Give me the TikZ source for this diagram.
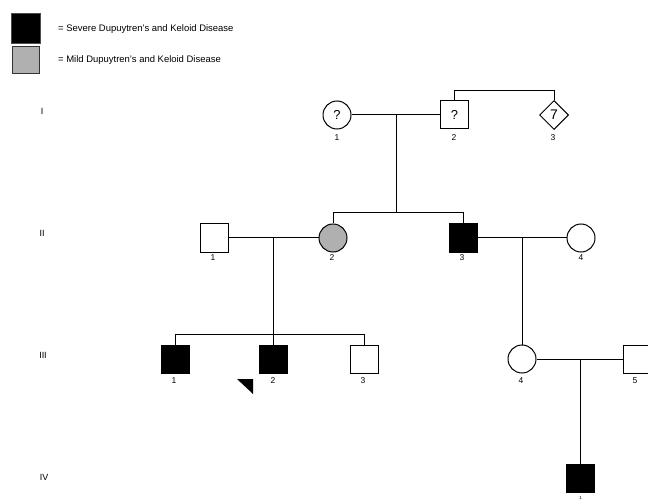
\documentclass[tikz,border=0pt]{standalone}
\usepackage{fontspec}
\setmainfont{Liberation Sans}
\usetikzlibrary{shapes.geometric}
\definecolor{mildgray}{RGB}{176,176,176}
\tikzset{
  ln/.style={line width=1bp,black},
  male/.style={draw,line width=1bp,rectangle,minimum size=28bp,inner sep=0pt,font=\fontsize{13}{14}\selectfont},
  female/.style={draw,line width=1bp,circle,minimum size=28bp,inner sep=0pt,font=\fontsize{13}{14}\selectfont},
  unk/.style={draw,line width=1bp,diamond,minimum width=29bp,minimum height=29bp,inner sep=0pt,font=\fontsize{14}{15}\selectfont},
  severe/.style={fill=black},
  mild/.style={fill=mildgray},
  lbl/.style={font=\fontsize{8.5}{9}\selectfont,inner sep=0pt},
  gen/.style={font=\fontsize{9}{10}\selectfont,inner sep=0pt},
  legtxt/.style={font=\fontsize{9.5}{10}\selectfont,anchor=west,inner sep=0pt}
}
\begin{document}
\begin{tikzpicture}[x=1bp,y=-1bp]
\useasboundingbox (0,0) rectangle (648,501);
% legend
\node[draw=black!70,fill=black,minimum width=29bp,minimum height=30bp,inner sep=0pt] (legA) at (26,28) {};
\node[draw=black!80,line width=1bp,fill=mildgray,minimum width=27bp,minimum height=27bp,inner sep=0pt] (legB) at (26,60) {};
\node[legtxt] (legAt) at (58,29) {= Severe Dupuytren's and Keloid Disease};
\node[legtxt] (legBt) at (58,60) {= Mild Dupuytren's and Keloid Disease};
% generation labels
\node[gen] (gI) at (42,111) {I};
\node[gen] (gII) at (42,233) {II};
\node[gen] (gIII) at (43,355) {III};
\node[gen] (gIV) at (44,477) {IV};
% generation I
\node[female] (I1) at (337,115) {?};
\node[male] (I2) at (454.5,115) {?};
\node[unk] (I3) at (554,115) {7};
\node[lbl] (I1l) at (337,138) {1};
\node[lbl] (I2l) at (454,138) {2};
\node[lbl] (I3l) at (553,138) {3};
\coordinate (mI) at (396,115);
\coordinate (topL) at (454.5,90.5);
\coordinate (topR) at (554,90.5);
\draw[ln] (I1) -- (I2);
\draw[ln] (I2.north) -- (topL) -- (topR) -- (I3.north);
% generation II
\node[male] (II1) at (214,238) {};
\node[female,mild] (II2) at (333,238) {};
\node[male,severe] (II3) at (463,238) {};
\node[female] (II4) at (581,238) {};
\node[lbl] (II1l) at (213,258) {1};
\node[lbl] (II2l) at (332,258) {2};
\node[lbl] (II3l) at (462,258) {3};
\node[lbl] (II4l) at (581,258) {4};
\coordinate (sibIIL) at (333,213);
\coordinate (sibIIR) at (463,213);
\coordinate (sibIIm) at (396,213);
\draw[ln] (mI) -- (sibIIm);
\draw[ln] (II2.north) -- (sibIIL) -- (sibIIR) -- (II3.north);
\draw[ln] (II1) -- (II2);
\draw[ln] (II3) -- (II4);
\coordinate (mII12) at (273,238);
\coordinate (mII34) at (522,238);
% generation III
\node[male,severe] (III1) at (175,359) {};
\node[male,severe] (III2) at (273,359) {};
\node[male] (III3) at (364,359) {};
\node[female] (III4) at (522,359) {};
\node[male] (III5) at (637,359) {};
\node[lbl] (III1l) at (174,381) {1};
\node[lbl] (III2l) at (273,381) {2};
\node[lbl] (III3l) at (363,381) {3};
\node[lbl] (III4l) at (521,381) {4};
\node[lbl] (III5l) at (635,381) {5};
\coordinate (sibIIIL) at (175,334);
\coordinate (sibIIIR) at (364,334);
\draw[ln] (mII12) -- (III2.north);
\draw[ln] (III1.north) -- (sibIIIL) -- (sibIIIR) -- (III3.north);
\draw[ln] (mII34) -- (III4.north);
\draw[ln] (III4) -- (III5);
\coordinate (mIII45) at (580.5,359);
% proband marker
\coordinate (pA) at (237,379);
\coordinate (pB) at (253,379);
\coordinate (pC) at (253,394);
\fill[black] (pA) -- (pB) -- (pC) -- cycle;
% generation IV
\node[male,severe] (IV1) at (580.5,478) {};
\node[lbl,font=\fontsize{4.5}{5}\selectfont] (IV1l) at (580.5,497.5) {1};
\draw[ln] (mIII45) -- (IV1.north);
\end{tikzpicture}
\end{document}
